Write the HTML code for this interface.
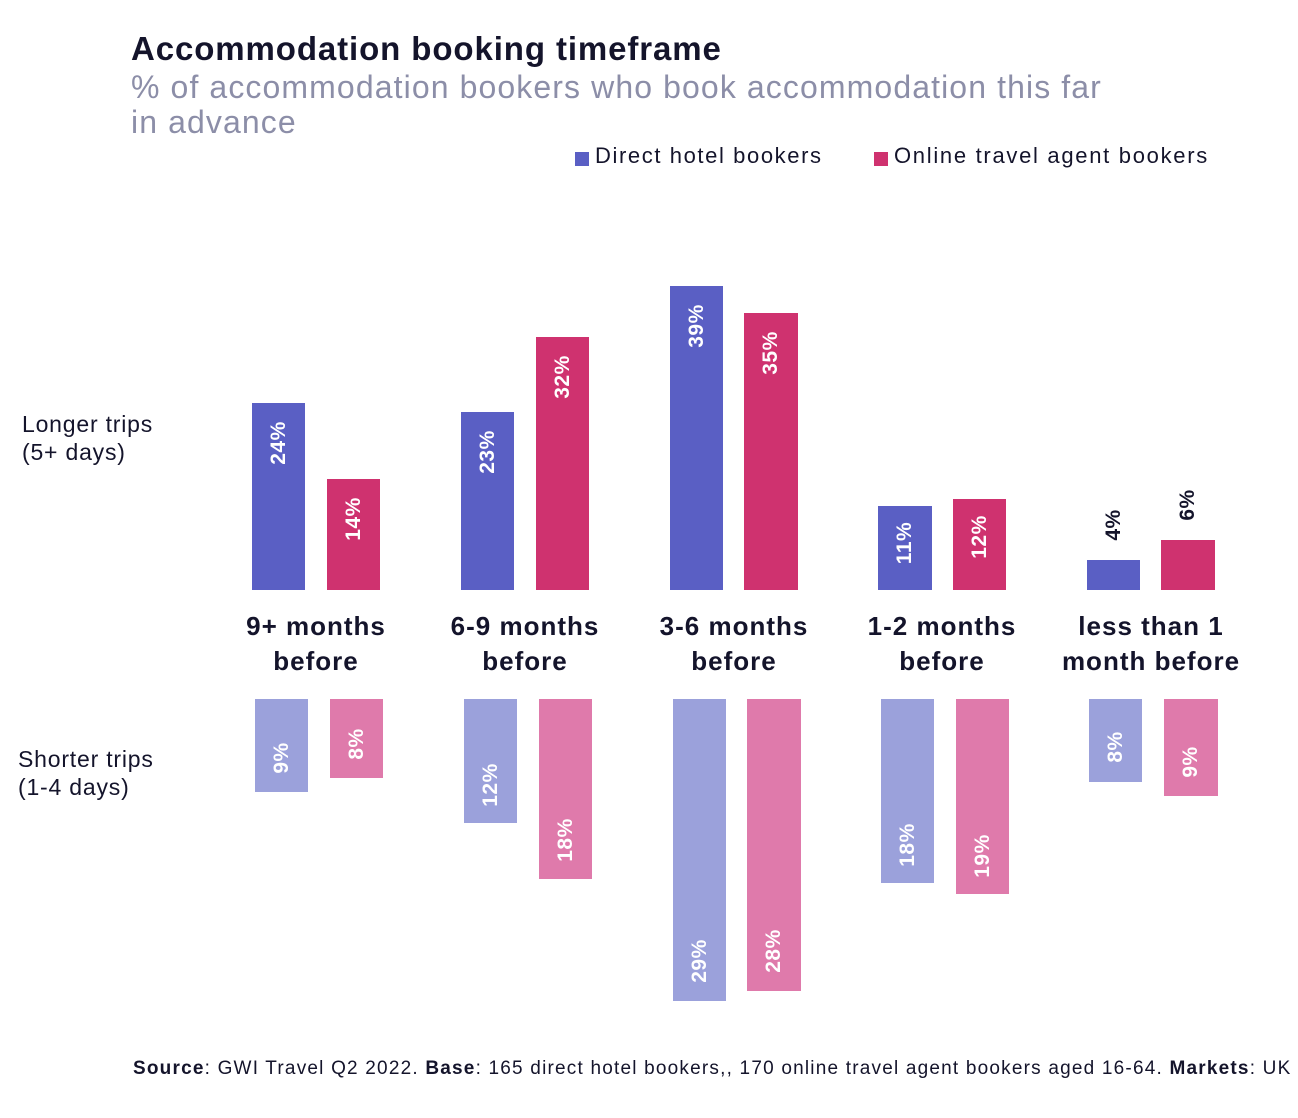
<!DOCTYPE html>
<html><head><meta charset="utf-8"><style>
body{margin:0;width:1298px;height:1118px;background:#fff;position:relative;overflow:hidden;font-family:"Liberation Sans",sans-serif;color:#14142b}
.a{position:absolute;white-space:nowrap}
.b{position:absolute}
.l{position:absolute;transform:translate(-50%,-50%) rotate(-90deg);font-weight:bold;font-size:21px;color:#fff;white-space:nowrap;letter-spacing:0.5px}
.c{position:absolute;width:240px;margin-left:-120px;text-align:center;font-weight:bold;font-size:26px;line-height:35px;top:609px;letter-spacing:1px}
</style></head><body>
<div class="a" style="left:131px;top:30px;font-size:33px;font-weight:bold;letter-spacing:0.9px">Accommodation booking timeframe</div>
<div class="a" style="left:131px;top:70px;font-size:32px;color:#8c8ea8;line-height:35px;letter-spacing:1.1px">% of accommodation bookers who book accommodation this far<br>in advance</div>
<div class="a" style="left:575px;top:152px;width:14px;height:14px;background:#5a5fc4"></div>
<div class="a" style="left:595px;top:143px;font-size:22px;letter-spacing:1.6px">Direct hotel bookers</div>
<div class="a" style="left:874px;top:152px;width:14px;height:14px;background:#cf326f"></div>
<div class="a" style="left:894px;top:143px;font-size:22px;letter-spacing:1.7px">Online travel agent bookers</div>
<div class="a" style="left:22px;top:410px;font-size:23px;line-height:28px;letter-spacing:0.8px">Longer trips<br>(5+ days)</div>
<div class="a" style="left:18px;top:745px;font-size:23px;line-height:28px;letter-spacing:0.8px">Shorter trips<br>(1-4 days)</div>
<div class="c" style="left:316px">9+ months<br>before</div>
<div class="c" style="left:525px">6-9 months<br>before</div>
<div class="c" style="left:734px">3-6 months<br>before</div>
<div class="c" style="left:942px">1-2 months<br>before</div>
<div class="c" style="left:1151px">less than 1<br>month before</div>
<div class="a" style="left:133px;top:1058px;font-size:19px;letter-spacing:1.2px">
<b>Source</b>: GWI Travel Q2 2022. <b>Base</b>: 165 direct hotel bookers,, 170 online travel agent bookers aged 16-64. <b>Markets</b>: UK</div>

<div class="b" style="left:252px;top:403px;width:53px;height:187px;background:#5a5fc4"></div><div class="l" style="left:279px;top:443px">24%</div>
<div class="b" style="left:327px;top:479px;width:53px;height:111px;background:#cf326f"></div><div class="l" style="left:354px;top:519px">14%</div>
<div class="b" style="left:461px;top:412px;width:53px;height:178px;background:#5a5fc4"></div><div class="l" style="left:488px;top:452px">23%</div>
<div class="b" style="left:536px;top:337px;width:53px;height:253px;background:#cf326f"></div><div class="l" style="left:563px;top:377px">32%</div>
<div class="b" style="left:670px;top:286px;width:53px;height:304px;background:#5a5fc4"></div><div class="l" style="left:697px;top:326px">39%</div>
<div class="b" style="left:744px;top:313px;width:54px;height:277px;background:#cf326f"></div><div class="l" style="left:771px;top:353px">35%</div>
<div class="b" style="left:878px;top:506px;width:54px;height:84px;background:#5a5fc4"></div><div class="l" style="left:905px;top:543px">11%</div>
<div class="b" style="left:953px;top:499px;width:53px;height:91px;background:#cf326f"></div><div class="l" style="left:980px;top:537px">12%</div>
<div class="b" style="left:1087px;top:560px;width:53px;height:30px;background:#5a5fc4"></div><div class="l" style="left:1114px;top:525px;color:#14142b">4%</div>
<div class="b" style="left:1161px;top:540px;width:54px;height:50px;background:#cf326f"></div><div class="l" style="left:1188px;top:505px;color:#14142b">6%</div>

<div class="b" style="left:255px;top:699px;width:53px;height:93px;background:#9ba1db"></div><div class="l" style="left:282px;top:758px">9%</div>
<div class="b" style="left:330px;top:699px;width:53px;height:79px;background:#df7aab"></div><div class="l" style="left:357px;top:744px">8%</div>
<div class="b" style="left:464px;top:699px;width:53px;height:124px;background:#9ba1db"></div><div class="l" style="left:491px;top:785px">12%</div>
<div class="b" style="left:539px;top:699px;width:53px;height:180px;background:#df7aab"></div><div class="l" style="left:566px;top:840px">18%</div>
<div class="b" style="left:673px;top:699px;width:53px;height:302px;background:#9ba1db"></div><div class="l" style="left:700px;top:961px">29%</div>
<div class="b" style="left:747px;top:699px;width:54px;height:292px;background:#df7aab"></div><div class="l" style="left:774px;top:951px">28%</div>
<div class="b" style="left:881px;top:699px;width:53px;height:184px;background:#9ba1db"></div><div class="l" style="left:908px;top:845px">18%</div>
<div class="b" style="left:956px;top:699px;width:53px;height:195px;background:#df7aab"></div><div class="l" style="left:983px;top:856px">19%</div>
<div class="b" style="left:1089px;top:699px;width:53px;height:83px;background:#9ba1db"></div><div class="l" style="left:1116px;top:747px">8%</div>
<div class="b" style="left:1164px;top:699px;width:54px;height:97px;background:#df7aab"></div><div class="l" style="left:1191px;top:762px">9%</div>
</body></html>
